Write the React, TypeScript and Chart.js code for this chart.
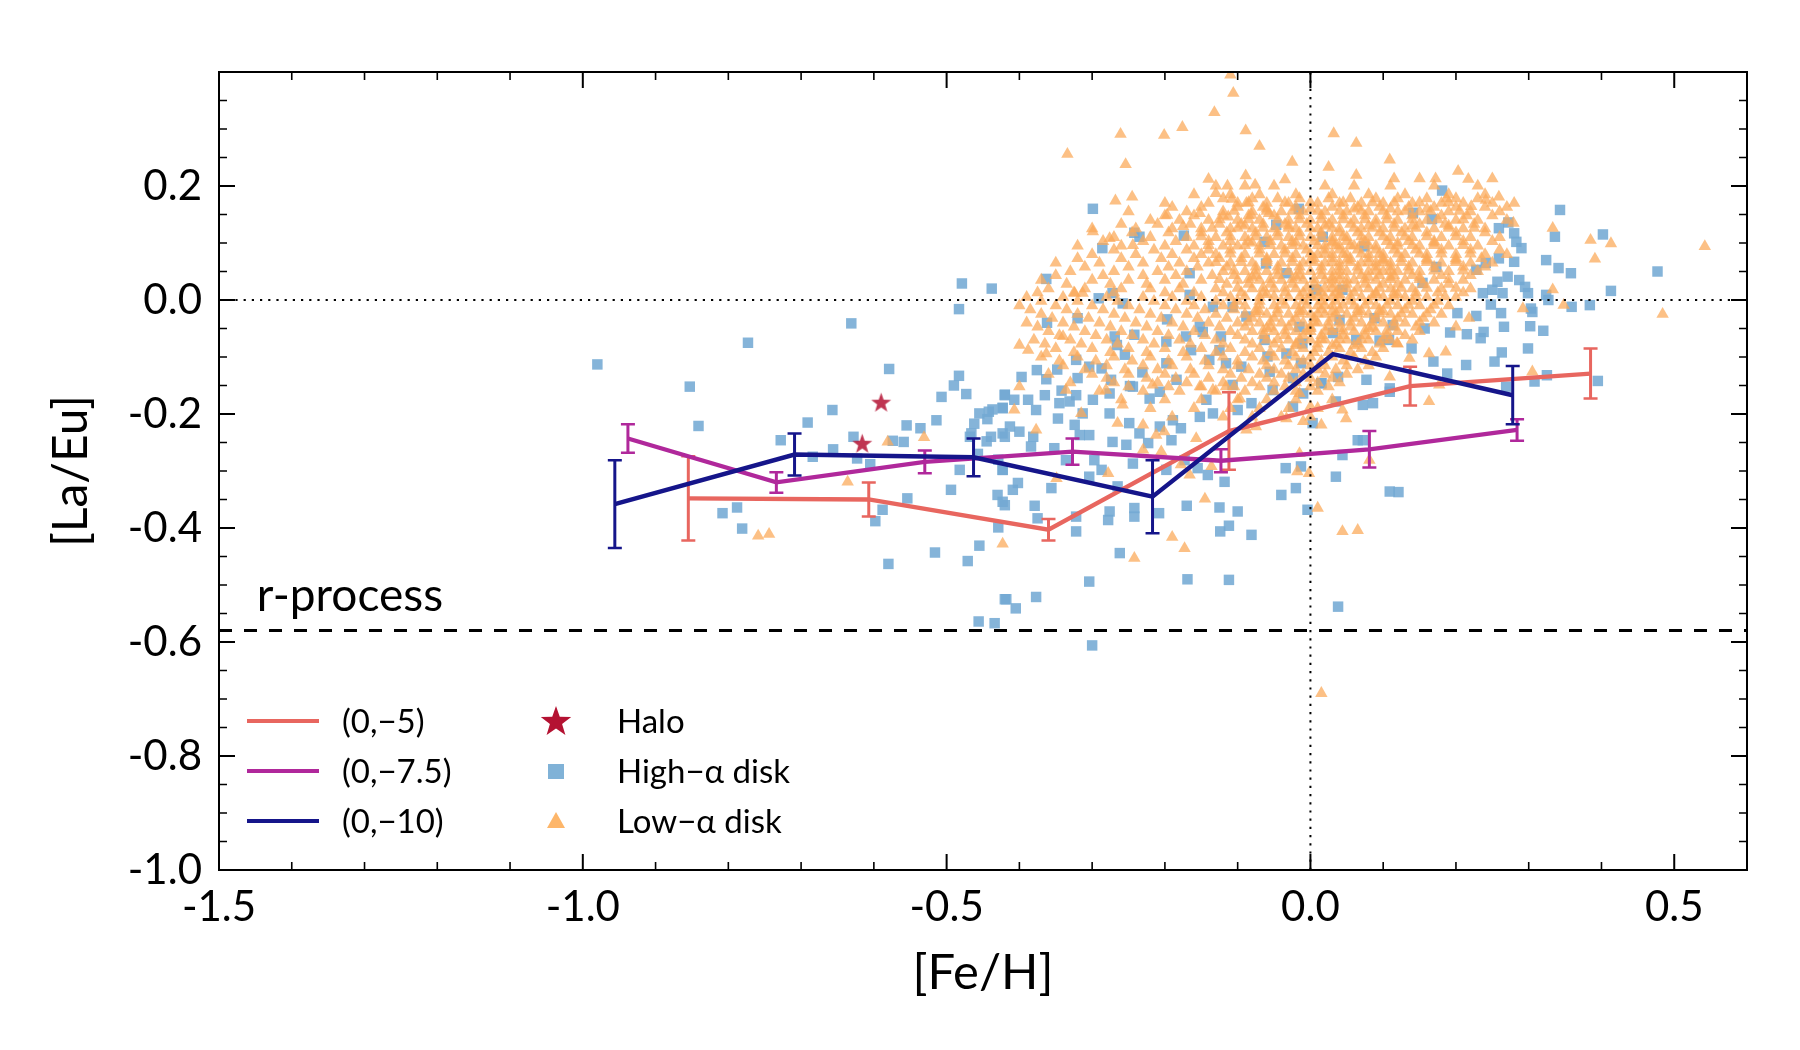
import React, { useEffect, useRef } from "react";
import { Chart, registerables } from "chart.js";

Chart.register(...registerables);

// ---------------- axes ----------------
const xRange = [-1.5, 0.6];
const yRange = [-1.0, 0.4];
const xTickLabels = [-1.5, -1.0, -0.5, 0.0, 0.5];
const yTickLabels = [-1.0, -0.8, -0.6, -0.4, -0.2, 0.0, 0.2];
const xMinorTicks = [-1.4, -1.3, -1.2, -1.1, -0.9, -0.8, -0.7, -0.6, -0.4, -0.3, -0.2, -0.1, 0.1, 0.2, 0.3, 0.4];
const yMinorTicks = [-0.95, -0.9, -0.85, -0.75, -0.7, -0.65, -0.55, -0.5, -0.45, -0.35, -0.3, -0.25, -0.15, -0.1, -0.05, 0.05, 0.1, 0.15, 0.25, 0.3, 0.35];
const xTitle = "[Fe/H]";
const yTitle = "[La/Eu]";

// ---------------- model tracks ----------------
const trackNames = ["(0,\u22125)", "(0,\u22127.5)", "(0,\u221210)"];
const trackColors = ["#e8665f", "#b0289b", "#15158a"];
const track5Fe = [-0.855, -0.607, -0.36, -0.112, 0.137, 0.385];
const track5LaEu = [-0.348, -0.35, -0.403, -0.23, -0.151, -0.129];
const track5Err = [0.074, 0.03, 0.019, 0.068, 0.034, 0.044];
const track75Fe = [-0.938, -0.734, -0.53, -0.327, -0.123, 0.081, 0.284];
const track75LaEu = [-0.243, -0.32, -0.284, -0.266, -0.282, -0.262, -0.228];
const track75Err = [0.025, 0.018, 0.02, 0.023, 0.02, 0.032, 0.019];
const track10Fe = [-0.956, -0.709, -0.463, -0.217, 0.031, 0.278];
const track10LaEu = [-0.358, -0.271, -0.276, -0.345, -0.095, -0.167];
const track10Err = [0.077, 0.037, 0.033, 0.064, 0.0, 0.051];

// ---------------- reference levels ----------------
const solarLaEu = 0.0;
const solarFe = 0.0;
const rProcessLaEu = -0.58;
const rProcessLabel = "r-process";

// ---------------- observed stars ----------------
const sampleNames = ["Halo", "High\u2212\u03b1 disk", "Low\u2212\u03b1 disk"];
const haloStars = [[-0.59, -0.181], [-0.616, -0.253]];

const highAlphaDisk = [
  [-0.98, -0.113], [-0.853, -0.152], [-0.773, -0.075], [-0.841, -0.221], [-0.808, -0.374], [-0.788, -0.364], [-0.781, -0.401],
  [-0.728, -0.246], [-0.691, -0.215], [-0.657, -0.193], [-0.631, -0.041], [-0.684, -0.275], [-0.656, -0.262], [-0.628, -0.24],
  [-0.623, -0.278], [-0.605, -0.288], [-0.579, -0.121], [-0.588, -0.368], [-0.598, -0.388], [-0.58, -0.463], [-0.574, -0.247],
  [-0.559, -0.249], [-0.555, -0.22], [-0.536, -0.225], [-0.514, -0.211], [-0.554, -0.348], [-0.516, -0.443], [-0.507, -0.17],
  [-0.49, -0.15], [-0.483, -0.133], [-0.473, -0.165], [-0.479, 0.029], [-0.438, 0.02], [-0.483, -0.016], [-0.494, -0.333],
  [-0.482, -0.298], [-0.455, -0.199], [-0.462, -0.217], [-0.444, -0.209], [-0.437, -0.192], [-0.423, -0.189], [-0.42, -0.166],
  [-0.466, -0.234], [-0.439, -0.24], [-0.445, -0.248], [-0.423, -0.234], [-0.423, -0.298], [-0.43, -0.342], [-0.42, -0.36],
  [-0.429, -0.399], [-0.455, -0.431], [-0.471, -0.458], [-0.42, -0.525], [-0.456, -0.564], [-0.434, -0.567],
  [-0.299, 0.16], [-0.363, 0.037], [-0.362, -0.04], [-0.286, 0.091], [-0.242, 0.118], [-0.235, 0.111], [-0.174, 0.113],
  [-0.016, 0.16], [-0.047, 0.132], [-0.397, -0.135], [-0.376, -0.123], [-0.348, -0.122], [-0.322, -0.105], [-0.32, -0.137],
  [-0.304, -0.117], [-0.287, -0.12], [-0.274, -0.14], [-0.269, -0.064], [-0.266, -0.079], [-0.255, -0.096], [-0.242, -0.061],
  [-0.231, -0.127], [-0.248, -0.151], [-0.197, -0.034], [-0.291, 0.003], [-0.272, 0.012], [-0.258, -0.006], [-0.32, -0.032],
  [-0.166, 0.047], [-0.166, 0.009], [-0.152, -0.047], [-0.148, -0.056], [-0.171, -0.064], [-0.198, -0.073], [-0.198, -0.111],
  [-0.184, -0.14], [-0.164, -0.088], [-0.139, -0.105], [-0.123, -0.064], [-0.125, -0.088], [-0.116, -0.111], [-0.095, -0.117],
  [-0.107, -0.149], [-0.134, -0.012], [-0.107, -0.012], [-0.088, -0.029], [-0.061, 0.064], [-0.063, 0.102], [-0.063, -0.07],
  [-0.059, -0.099], [-0.056, -0.126], [-0.033, -0.094], [-0.013, -0.111], [-0.024, -0.137], [-0.015, -0.047], [-0.011, -0.076],
  [-0.033, 0.047], [0.008, 0.018], [0.044, 0.018], [0.038, -0.135], [0.015, -0.146], [0.063, -0.07], [0.04, -0.035],
  [0.031, -0.058], [0.017, 0.111],
  [0.181, 0.192], [0.141, 0.153], [0.167, 0.142], [0.343, 0.158], [0.272, 0.136], [0.259, 0.126], [0.28, 0.117], [0.283, 0.102],
  [0.29, 0.091], [0.336, 0.111], [0.402, 0.115], [0.324, 0.07], [0.341, 0.056], [0.358, 0.047], [0.477, 0.05], [0.413, 0.016],
  [0.384, -0.009], [0.359, -0.012], [0.327, 0.0], [0.324, 0.009], [0.295, 0.023], [0.287, 0.035], [0.299, 0.012], [0.303, -0.015],
  [0.305, -0.021], [0.28, 0.067], [0.271, 0.041], [0.259, 0.073], [0.241, 0.065], [0.228, 0.053], [0.257, 0.032], [0.25, 0.018],
  [0.264, 0.012], [0.237, 0.012], [0.248, -0.008], [0.262, -0.023], [0.228, -0.028], [0.202, -0.023], [0.266, -0.047],
  [0.302, -0.046], [0.32, -0.054], [0.238, -0.056], [0.234, -0.067], [0.215, -0.06], [0.192, -0.057], [0.263, -0.092],
  [0.253, -0.108], [0.299, -0.085], [0.214, -0.114], [0.188, -0.129], [0.169, -0.108], [0.139, -0.085], [0.157, -0.05],
  [0.108, -0.07], [0.095, -0.071], [0.077, -0.14], [0.109, -0.155], [0.325, -0.132], [0.308, -0.143], [0.395, -0.142],
  [0.088, -0.032], [0.113, -0.044], [0.173, 0.058], [0.154, 0.03], [0.074, 0.094],
  [-0.42, -0.167], [-0.407, -0.175], [-0.388, -0.175], [-0.365, -0.167], [-0.423, -0.19], [-0.377, -0.193], [-0.345, -0.181],
  [-0.331, -0.178], [-0.322, -0.167], [-0.347, -0.208], [-0.324, -0.219], [-0.413, -0.222], [-0.4, -0.231], [-0.381, -0.24],
  [-0.42, -0.24], [-0.384, -0.257], [-0.352, -0.26], [-0.317, -0.237], [-0.304, -0.237], [-0.336, -0.281], [-0.297, -0.281],
  [-0.423, -0.298], [-0.409, -0.333], [-0.423, -0.354], [-0.379, -0.361], [-0.356, -0.33], [-0.375, -0.383], [-0.322, -0.38],
  [-0.322, -0.406], [-0.304, -0.31], [-0.287, -0.298], [-0.276, -0.371], [-0.278, -0.386], [-0.265, -0.327], [-0.242, -0.365],
  [-0.242, -0.38], [-0.208, -0.374], [-0.262, -0.444], [-0.304, -0.494], [-0.377, -0.521], [-0.418, -0.525], [-0.405, -0.541],
  [-0.3, -0.606], [-0.169, -0.49], [-0.112, -0.491], [0.038, -0.538], [-0.17, -0.361], [-0.125, -0.364], [-0.1, -0.371],
  [-0.124, -0.406], [-0.112, -0.396], [-0.081, -0.412], [-0.118, -0.319], [-0.04, -0.342], [-0.02, -0.33], [-0.004, -0.368],
  [-0.034, -0.295], [-0.013, -0.292], [0.035, -0.31], [0.044, -0.272], [0.065, -0.246], [0.003, -0.216], [0.035, -0.178],
  [0.015, -0.146], [-0.173, -0.281], [-0.155, -0.295], [-0.141, -0.307], [-0.244, -0.287], [-0.198, -0.298], [-0.272, -0.249],
  [-0.253, -0.254], [-0.235, -0.234], [-0.223, -0.251], [-0.207, -0.222], [-0.191, -0.246], [-0.178, -0.225], [-0.189, -0.211],
  [-0.152, -0.205], [-0.134, -0.199], [-0.143, -0.175], [-0.1, -0.193], [-0.081, -0.181], [-0.052, -0.158], [-0.024, -0.187],
  [-0.01, -0.164], [-0.276, -0.164], [-0.244, -0.152], [-0.221, -0.173], [-0.207, -0.161], [-0.276, -0.199], [-0.249, -0.216],
  [-0.299, -0.175], [-0.313, -0.199],
  [0.072, -0.246], [0.109, -0.336], [0.121, -0.337], [0.269, -0.152], [0.109, -0.161], [0.086, -0.181], [0.072, -0.184],
  [-0.442, -0.196], [-0.468, -0.24], [-0.457, -0.27], [-0.402, -0.321], [-0.429, -0.28], [-0.363, -0.139], [-0.342, -0.159]
];

const lowAlphaDisk = [
  // outliers
  [-0.759, -0.414], [-0.744, -0.411], [-0.636, -0.319], [-0.581, -0.249], [-0.531, -0.241], [-0.423, -0.428],
  [-0.11, 0.395], [-0.106, 0.363], [-0.132, 0.329], [-0.176, 0.303], [-0.201, 0.289], [-0.261, 0.291], [-0.334, 0.256],
  [-0.254, 0.238], [-0.089, 0.297], [-0.07, 0.27], [0.032, 0.292], [0.063, 0.275], [0.025, 0.233], [0.063, 0.219],
  [-0.025, 0.242], [-0.035, 0.211], [-0.14, 0.212], [-0.114, 0.2], [-0.089, 0.218], [-0.076, 0.202], [-0.13, 0.187],
  [-0.108, 0.177], [-0.268, 0.174], [-0.245, 0.181], [-0.088, 0.17], [-0.197, 0.149], [-0.152, 0.152], [-0.113, 0.146],
  [-0.081, 0.149], [-0.057, 0.152], [-0.299, 0.12], [-0.276, 0.108], [-0.244, 0.096], [-0.175, 0.129], [-0.4, -0.079],
  [-0.388, -0.088], [-0.324, 0.012], [-0.313, 0.012], [-0.34, -0.064], [-0.363, -0.094],
  [0.109, 0.246], [0.115, 0.213], [0.15, 0.213], [0.172, 0.213], [0.203, 0.226], [0.217, 0.212], [0.25, 0.213], [0.241, 0.175],
  [0.259, 0.181], [0.187, 0.178], [0.221, 0.164], [0.333, 0.126], [0.385, 0.105], [0.413, 0.099], [0.391, 0.072], [0.542, 0.094],
  [0.484, -0.025], [0.333, 0.018], [0.348, -0.009], [0.292, -0.015], [0.279, 0.135], [0.305, -0.126], [0.177, -0.149],
  [0.163, -0.094], [0.136, -0.102], [0.109, -0.135], [0.119, -0.076], [0.186, -0.091], [0.2, -0.047], [0.218, -0.032],
  [-0.242, -0.453], [-0.19, -0.416], [-0.173, -0.436], [-0.145, -0.349], [0.01, -0.365], [0.044, -0.406], [0.065, -0.404],
  [0.015, -0.69], [-0.349, -0.313], [-0.278, -0.304], [-0.018, -0.301], [-0.002, -0.304], [-0.407, -0.193], [-0.377, -0.228],
  [-0.315, -0.199], [-0.265, -0.216], [-0.23, -0.219], [-0.212, -0.237], [-0.201, -0.231], [-0.157, -0.243], [-0.23, -0.263],
  [-0.205, -0.266], [-0.178, -0.289], [-0.166, -0.307], [-0.136, -0.292], [-0.097, -0.173], [-0.088, -0.228], [-0.075, -0.222],
  [-0.033, -0.208], [-0.01, -0.213], [0.015, -0.219], [0.049, -0.208], [0.044, -0.193], [0.0, -0.187], [-0.015, -0.269],
  [-0.217, -0.149], [-0.258, -0.184], [-0.134, -0.158], [-0.116, -0.152], [-0.152, -0.152], [-0.015, -0.164], [-0.4, -0.152],
  [-0.336, -0.158], [-0.281, -0.158], [0.081, -0.281], [0.163, -0.178],
  // main clump
  [-0.13, 0.2], [-0.09, 0.2], [-0.05, 0.2], [0.02, 0.2], [0.06, 0.2], [0.11, 0.2], [0.17, 0.2], [0.23, 0.2],
  [-0.16, 0.185], [-0.11, 0.185], [-0.07, 0.185], [-0.02, 0.185], [0.03, 0.185], [0.08, 0.185], [0.13, 0.185], [0.19, 0.185], [0.24, 0.185],
  [-0.2, 0.17], [-0.14, 0.17], [-0.1, 0.17], [-0.06, 0.17], [-0.03, 0.17], [0.01, 0.17], [0.04, 0.17], [0.07, 0.17], [0.1, 0.17],
  [0.14, 0.17], [0.18, 0.17], [0.21, 0.17], [0.25, 0.17], [0.28, 0.17],
  [-0.25, 0.155], [-0.17, 0.155], [-0.12, 0.155], [-0.08, 0.155], [-0.04, 0.155], [-0.01, 0.155], [0.02, 0.155], [0.05, 0.155],
  [0.08, 0.155], [0.12, 0.155], [0.15, 0.155], [0.19, 0.155], [0.22, 0.155], [0.26, 0.155],
  [-0.22, 0.14], [-0.18, 0.14], [-0.14, 0.14], [-0.1, 0.14], [-0.07, 0.14], [-0.03, 0.14], [0.0, 0.14], [0.03, 0.14], [0.06, 0.14],
  [0.09, 0.14], [0.12, 0.14], [0.16, 0.14], [0.2, 0.14], [0.23, 0.14], [0.27, 0.14],
  [-0.3, 0.125], [-0.24, 0.125], [-0.19, 0.125], [-0.15, 0.125], [-0.11, 0.125], [-0.08, 0.125], [-0.05, 0.125], [-0.02, 0.125],
  [0.01, 0.125], [0.04, 0.125], [0.07, 0.125], [0.1, 0.125], [0.13, 0.125], [0.17, 0.125], [0.21, 0.125], [0.24, 0.125],
  [-0.27, 0.11], [-0.22, 0.11], [-0.17, 0.11], [-0.13, 0.11], [-0.09, 0.11], [-0.06, 0.11], [-0.03, 0.11], [0.0, 0.11], [0.03, 0.11],
  [0.05, 0.11], [0.08, 0.11], [0.11, 0.11], [0.14, 0.11], [0.18, 0.11], [0.22, 0.11], [0.26, 0.11],
  [-0.32, 0.095], [-0.26, 0.095], [-0.2, 0.095], [-0.16, 0.095], [-0.12, 0.095], [-0.1, 0.095], [-0.07, 0.095], [-0.04, 0.095],
  [-0.01, 0.095], [0.02, 0.095], [0.04, 0.095], [0.06, 0.095], [0.09, 0.095], [0.12, 0.095], [0.15, 0.095], [0.19, 0.095], [0.23, 0.095],
  [-0.3, 0.08], [-0.24, 0.08], [-0.19, 0.08], [-0.15, 0.08], [-0.13, 0.08], [-0.09, 0.08], [-0.05, 0.08], [-0.02, 0.08], [0.01, 0.08],
  [0.03, 0.08], [0.05, 0.08], [0.08, 0.08], [0.1, 0.08], [0.13, 0.08], [0.16, 0.08], [0.2, 0.08], [0.24, 0.08], [0.27, 0.08],
  [-0.35, 0.065], [-0.29, 0.065], [-0.23, 0.065], [-0.18, 0.065], [-0.14, 0.065], [-0.11, 0.065], [-0.08, 0.065], [-0.04, 0.065],
  [-0.01, 0.065], [0.02, 0.065], [0.04, 0.065], [0.07, 0.065], [0.09, 0.065], [0.11, 0.065], [0.14, 0.065], [0.18, 0.065], [0.22, 0.065], [0.25, 0.065],
  [-0.33, 0.05], [-0.27, 0.05], [-0.21, 0.05], [-0.17, 0.05], [-0.12, 0.05], [-0.09, 0.05], [-0.06, 0.05], [-0.03, 0.05], [0.0, 0.05],
  [0.03, 0.05], [0.05, 0.05], [0.08, 0.05], [0.1, 0.05], [0.12, 0.05], [0.15, 0.05], [0.19, 0.05], [0.23, 0.05],
  [-0.37, 0.035], [-0.3, 0.035], [-0.25, 0.035], [-0.2, 0.035], [-0.15, 0.035], [-0.1, 0.035], [-0.07, 0.035], [-0.04, 0.035],
  [-0.01, 0.035], [0.02, 0.035], [0.04, 0.035], [0.06, 0.035], [0.09, 0.035], [0.13, 0.035], [0.17, 0.035], [0.21, 0.035],
  [-0.36, 0.02], [-0.31, 0.02], [-0.26, 0.02], [-0.22, 0.02], [-0.18, 0.02], [-0.13, 0.02], [-0.08, 0.02], [-0.05, 0.02], [-0.02, 0.02],
  [0.01, 0.02], [0.03, 0.02], [0.05, 0.02], [0.08, 0.02], [0.11, 0.02], [0.14, 0.02], [0.18, 0.02], [0.22, 0.02],
  [-0.39, 0.005], [-0.34, 0.005], [-0.28, 0.005], [-0.23, 0.005], [-0.19, 0.005], [-0.15, 0.005], [-0.11, 0.005], [-0.07, 0.005],
  [-0.03, 0.005], [0.0, 0.005], [0.02, 0.005], [0.04, 0.005], [0.07, 0.005], [0.1, 0.005], [0.13, 0.005], [0.16, 0.005], [0.2, 0.005],
  [-0.4, -0.01], [-0.35, -0.01], [-0.3, -0.01], [-0.25, -0.01], [-0.2, -0.01], [-0.16, -0.01], [-0.12, -0.01], [-0.09, -0.01],
  [-0.05, -0.01], [-0.02, -0.01], [0.01, -0.01], [0.03, -0.01], [0.06, -0.01], [0.09, -0.01], [0.12, -0.01], [0.15, -0.01], [0.19, -0.01],
  [-0.37, -0.025], [-0.32, -0.025], [-0.27, -0.025], [-0.22, -0.025], [-0.17, -0.025], [-0.13, -0.025], [-0.09, -0.025], [-0.06, -0.025],
  [-0.03, -0.025], [0.0, -0.025], [0.02, -0.025], [0.05, -0.025], [0.08, -0.025], [0.11, -0.025], [0.14, -0.025], [0.18, -0.025],
  [-0.39, -0.04], [-0.34, -0.04], [-0.29, -0.04], [-0.24, -0.04], [-0.19, -0.04], [-0.14, -0.04], [-0.1, -0.04], [-0.07, -0.04],
  [-0.04, -0.04], [-0.01, -0.04], [0.01, -0.04], [0.04, -0.04], [0.07, -0.04], [0.1, -0.04], [0.13, -0.04], [0.17, -0.04],
  [-0.36, -0.055], [-0.31, -0.055], [-0.26, -0.055], [-0.21, -0.055], [-0.16, -0.055], [-0.11, -0.055], [-0.08, -0.055], [-0.05, -0.055],
  [-0.02, -0.055], [0.0, -0.055], [0.03, -0.055], [0.06, -0.055], [0.09, -0.055], [0.12, -0.055], [0.15, -0.055],
  [-0.38, -0.07], [-0.33, -0.07], [-0.28, -0.07], [-0.23, -0.07], [-0.18, -0.07], [-0.13, -0.07], [-0.09, -0.07], [-0.06, -0.07],
  [-0.03, -0.07], [0.0, -0.07], [0.02, -0.07], [0.05, -0.07], [0.08, -0.07], [0.11, -0.07], [0.14, -0.07],
  [-0.35, -0.085], [-0.3, -0.085], [-0.25, -0.085], [-0.2, -0.085], [-0.15, -0.085], [-0.11, -0.085], [-0.07, -0.085], [-0.04, -0.085],
  [-0.01, -0.085], [0.01, -0.085], [0.04, -0.085], [0.07, -0.085], [0.1, -0.085],
  [-0.37, -0.1], [-0.32, -0.1], [-0.27, -0.1], [-0.22, -0.1], [-0.17, -0.1], [-0.12, -0.1], [-0.08, -0.1], [-0.05, -0.1], [-0.02, -0.1],
  [0.0, -0.1], [0.03, -0.1], [0.06, -0.1], [0.09, -0.1],
  [-0.34, -0.115], [-0.28, -0.115], [-0.23, -0.115], [-0.19, -0.115], [-0.14, -0.115], [-0.1, -0.115], [-0.06, -0.115], [-0.03, -0.115],
  [0.0, -0.115], [0.02, -0.115], [0.05, -0.115], [0.08, -0.115],
  [-0.36, -0.13], [-0.3, -0.13], [-0.25, -0.13], [-0.2, -0.13], [-0.16, -0.13], [-0.11, -0.13], [-0.07, -0.13], [-0.04, -0.13],
  [-0.01, -0.13], [0.02, -0.13], [0.05, -0.13],
  [-0.33, -0.145], [-0.27, -0.145], [-0.21, -0.145], [-0.17, -0.145], [-0.12, -0.145], [-0.08, -0.145], [-0.05, -0.145], [-0.02, -0.145],
  [0.01, -0.145], [0.04, -0.145],
  [-0.29, -0.16], [-0.23, -0.16], [-0.18, -0.16], [-0.13, -0.16], [-0.09, -0.16], [-0.05, -0.16], [-0.02, -0.16], [0.01, -0.16],
  [-0.26, -0.175], [-0.2, -0.175], [-0.15, -0.175], [-0.1, -0.175], [-0.06, -0.175], [-0.02, -0.175], [0.03, -0.175],
  [-0.22, -0.19], [-0.16, -0.19], [-0.11, -0.19], [-0.07, -0.19], [-0.03, -0.19], [0.01, -0.19],
  [-0.19, -0.205], [-0.12, -0.205], [-0.08, -0.205], [-0.04, -0.205], [0.0, -0.205],
  // densest part of the clump
  [-0.06, 0.16], [0.0, 0.16], [0.06, 0.16], [0.11, 0.16], [0.16, 0.16],
  [-0.09, 0.13], [-0.03, 0.13], [0.02, 0.13], [0.08, 0.13], [0.14, 0.13], [0.19, 0.13],
  [-0.08, 0.1], [-0.02, 0.1], [0.03, 0.1], [0.07, 0.1], [0.12, 0.1], [0.17, 0.1],
  [-0.06, 0.07], [0.0, 0.07], [0.05, 0.07], [0.1, 0.07], [0.16, 0.07], [0.2, 0.07],
  [-0.08, 0.04], [-0.02, 0.04], [0.03, 0.04], [0.08, 0.04], [0.11, 0.04], [0.15, 0.04],
  [-0.06, 0.01], [0.0, 0.01], [0.04, 0.01], [0.09, 0.01], [0.12, 0.01],
  [-0.07, -0.02], [-0.01, -0.02], [0.03, -0.02], [0.07, -0.02], [0.1, -0.02],
  [-0.06, -0.05], [0.0, -0.05], [0.04, -0.05], [0.08, -0.05],
  [-0.02, -0.08], [0.03, -0.08], [0.06, -0.08],
  // filling between the rows of the clump
  [-0.12, 0.178], [-0.08, 0.178], [-0.045, 0.178], [-0.015, 0.178], [0.025, 0.178], [0.055, 0.178], [0.09, 0.178], [0.12, 0.178], [0.16, 0.178], [0.2, 0.178], [0.23, 0.178],
  [-0.19, 0.163], [-0.15, 0.163], [-0.1, 0.163], [-0.065, 0.163], [-0.02, 0.163], [0.03, 0.163], [0.065, 0.163], [0.095, 0.163], [0.135, 0.163], [0.17, 0.163], [0.2, 0.163], [0.24, 0.163], [0.27, 0.163],
  [-0.2, 0.148], [-0.16, 0.148], [-0.12, 0.148], [-0.085, 0.148], [-0.05, 0.148], [-0.015, 0.148], [0.015, 0.148], [0.045, 0.148], [0.075, 0.148], [0.105, 0.148], [0.14, 0.148], [0.18, 0.148], [0.215, 0.148], [0.25, 0.148],
  [-0.26, 0.133], [-0.21, 0.133], [-0.165, 0.133], [-0.125, 0.133], [-0.095, 0.133], [-0.065, 0.133], [-0.035, 0.133], [-0.005, 0.133], [0.025, 0.133], [0.055, 0.133], [0.09, 0.133], [0.115, 0.133], [0.15, 0.133], [0.185, 0.133], [0.225, 0.133],
  [-0.245, 0.118], [-0.195, 0.118], [-0.15, 0.118], [-0.115, 0.118], [-0.075, 0.118], [-0.045, 0.118], [-0.015, 0.118], [0.015, 0.118], [0.04, 0.118], [0.065, 0.118], [0.095, 0.118], [0.125, 0.118], [0.16, 0.118], [0.2, 0.118], [0.24, 0.118],
  [-0.285, 0.103], [-0.23, 0.103], [-0.185, 0.103], [-0.14, 0.103], [-0.11, 0.103], [-0.085, 0.103], [-0.055, 0.103], [-0.025, 0.103], [0.005, 0.103], [0.03, 0.103], [0.05, 0.103], [0.075, 0.103], [0.105, 0.103], [0.135, 0.103], [0.17, 0.103], [0.21, 0.103], [0.25, 0.103],
  [-0.27, 0.088], [-0.215, 0.088], [-0.17, 0.088], [-0.14, 0.088], [-0.11, 0.088], [-0.07, 0.088], [-0.035, 0.088], [-0.005, 0.088], [0.02, 0.088], [0.04, 0.088], [0.065, 0.088], [0.09, 0.088], [0.115, 0.088], [0.145, 0.088], [0.18, 0.088], [0.22, 0.088], [0.26, 0.088],
  [-0.32, 0.073], [-0.26, 0.073], [-0.205, 0.073], [-0.16, 0.073], [-0.125, 0.073], [-0.095, 0.073], [-0.06, 0.073], [-0.025, 0.073], [0.005, 0.073], [0.03, 0.073], [0.055, 0.073], [0.08, 0.073], [0.1, 0.073], [0.125, 0.073], [0.16, 0.073], [0.2, 0.073], [0.235, 0.073],
  [-0.31, 0.058], [-0.25, 0.058], [-0.195, 0.058], [-0.155, 0.058], [-0.115, 0.058], [-0.075, 0.058], [-0.045, 0.058], [-0.015, 0.058], [0.015, 0.058], [0.04, 0.058], [0.065, 0.058], [0.09, 0.058], [0.11, 0.058], [0.135, 0.058], [0.17, 0.058], [0.21, 0.058], [0.24, 0.058],
  [-0.35, 0.043], [-0.285, 0.043], [-0.23, 0.043], [-0.185, 0.043], [-0.135, 0.043], [-0.105, 0.043], [-0.075, 0.043], [-0.045, 0.043], [-0.015, 0.043], [0.015, 0.043], [0.04, 0.043], [0.07, 0.043], [0.095, 0.043], [0.115, 0.043], [0.14, 0.043], [0.18, 0.043], [0.22, 0.043],
  [-0.335, 0.028], [-0.275, 0.028], [-0.225, 0.028], [-0.175, 0.028], [-0.115, 0.028], [-0.085, 0.028], [-0.055, 0.028], [-0.025, 0.028], [0.005, 0.028], [0.03, 0.028], [0.05, 0.028], [0.075, 0.028], [0.1, 0.028], [0.12, 0.028], [0.155, 0.028], [0.19, 0.028],
  [-0.375, 0.013], [-0.325, 0.013], [-0.27, 0.013], [-0.2, 0.013], [-0.16, 0.013], [-0.12, 0.013], [-0.095, 0.013], [-0.065, 0.013], [-0.035, 0.013], [-0.01, 0.013], [0.015, 0.013], [0.035, 0.013], [0.06, 0.013], [0.09, 0.013], [0.115, 0.013], [0.145, 0.013], [0.175, 0.013], [0.21, 0.013],
  [-0.37, -0.002], [-0.32, -0.002], [-0.265, -0.002], [-0.215, -0.002], [-0.17, -0.002], [-0.13, -0.002], [-0.1, -0.002], [-0.07, -0.002], [-0.04, -0.002], [-0.01, -0.002], [0.015, -0.002], [0.035, -0.002], [0.055, -0.002], [0.08, -0.002], [0.11, -0.002], [0.14, -0.002], [0.175, -0.002],
  [-0.385, -0.017], [-0.335, -0.017], [-0.285, -0.017], [-0.235, -0.017], [-0.185, -0.017], [-0.145, -0.017], [-0.105, -0.017], [-0.075, -0.017], [-0.045, -0.017], [-0.015, -0.017], [0.015, -0.017], [0.04, -0.017], [0.065, -0.017], [0.095, -0.017], [0.13, -0.017], [0.165, -0.017],
  [-0.355, -0.032], [-0.305, -0.032], [-0.255, -0.032], [-0.205, -0.032], [-0.155, -0.032], [-0.115, -0.032], [-0.08, -0.032], [-0.05, -0.032], [-0.02, -0.032], [0.005, -0.032], [0.03, -0.032], [0.06, -0.032], [0.09, -0.032], [0.12, -0.032], [0.155, -0.032],
  [-0.375, -0.047], [-0.325, -0.047], [-0.275, -0.047], [-0.225, -0.047], [-0.175, -0.047], [-0.125, -0.047], [-0.09, -0.047], [-0.055, -0.047], [-0.03, -0.047], [0.0, -0.047], [0.025, -0.047], [0.055, -0.047], [0.085, -0.047], [0.115, -0.047], [0.145, -0.047],
  [-0.345, -0.062], [-0.295, -0.062], [-0.245, -0.062], [-0.195, -0.062], [-0.145, -0.062], [-0.1, -0.062], [-0.065, -0.062], [-0.035, -0.062], [-0.01, -0.062], [0.015, -0.062], [0.045, -0.062], [0.075, -0.062], [0.105, -0.062], [0.13, -0.062],
  [-0.365, -0.077], [-0.315, -0.077], [-0.265, -0.077], [-0.215, -0.077], [-0.165, -0.077], [-0.12, -0.077], [-0.08, -0.077], [-0.05, -0.077], [-0.02, -0.077], [0.01, -0.077], [0.035, -0.077], [0.065, -0.077], [0.095, -0.077], [0.12, -0.077],
  [-0.325, -0.092], [-0.275, -0.092], [-0.225, -0.092], [-0.175, -0.092], [-0.13, -0.092], [-0.09, -0.092], [-0.055, -0.092], [-0.025, -0.092], [0.005, -0.092], [0.025, -0.092], [0.055, -0.092], [0.085, -0.092],
  [-0.345, -0.107], [-0.295, -0.107], [-0.245, -0.107], [-0.195, -0.107], [-0.145, -0.107], [-0.1, -0.107], [-0.065, -0.107], [-0.035, -0.107], [-0.01, -0.107], [0.015, -0.107], [0.045, -0.107], [0.075, -0.107],
  [-0.31, -0.122], [-0.255, -0.122], [-0.21, -0.122], [-0.165, -0.122], [-0.12, -0.122], [-0.085, -0.122], [-0.05, -0.122], [-0.02, -0.122], [0.01, -0.122], [0.035, -0.122], [0.065, -0.122],
  [-0.28, -0.137], [-0.225, -0.137], [-0.185, -0.137], [-0.14, -0.137], [-0.095, -0.137], [-0.06, -0.137], [-0.03, -0.137], [0.0, -0.137], [0.03, -0.137],
  [-0.25, -0.152], [-0.195, -0.152], [-0.15, -0.152], [-0.105, -0.152], [-0.07, -0.152], [-0.035, -0.152], [0.0, -0.152], [0.025, -0.152],
  // solid centre of the clump
  [-0.085, 0.171], [-0.035, 0.171], [0.0, 0.171], [0.045, 0.171], [0.085, 0.171], [0.115, 0.171], [0.15, 0.171], [0.19, 0.171],
  [-0.105, 0.156], [-0.06, 0.156], [-0.025, 0.156], [0.01, 0.156], [0.04, 0.156], [0.07, 0.156], [0.1, 0.156], [0.13, 0.156], [0.165, 0.156], [0.205, 0.156],
  [-0.125, 0.141], [-0.085, 0.141], [-0.045, 0.141], [-0.015, 0.141], [0.015, 0.141], [0.045, 0.141], [0.075, 0.141], [0.105, 0.141], [0.14, 0.141], [0.175, 0.141], [0.21, 0.141],
  [-0.135, 0.126], [-0.1, 0.126], [-0.065, 0.126], [-0.03, 0.126], [0.0, 0.126], [0.03, 0.126], [0.06, 0.126], [0.085, 0.126], [0.115, 0.126], [0.145, 0.126], [0.19, 0.126], [0.225, 0.126],
  [-0.15, 0.111], [-0.11, 0.111], [-0.075, 0.111], [-0.045, 0.111], [-0.015, 0.111], [0.015, 0.111], [0.045, 0.111], [0.07, 0.111], [0.1, 0.111], [0.13, 0.111], [0.16, 0.111], [0.2, 0.111],
  [-0.14, 0.096], [-0.09, 0.096], [-0.055, 0.096], [-0.025, 0.096], [0.01, 0.096], [0.035, 0.096], [0.055, 0.096], [0.08, 0.096], [0.11, 0.096], [0.14, 0.096], [0.17, 0.096], [0.21, 0.096],
  [-0.11, 0.081], [-0.07, 0.081], [-0.035, 0.081], [0.0, 0.081], [0.02, 0.081], [0.045, 0.081], [0.07, 0.081], [0.095, 0.081], [0.12, 0.081], [0.15, 0.081], [0.18, 0.081], [0.22, 0.081],
  [-0.13, 0.066], [-0.095, 0.066], [-0.06, 0.066], [-0.025, 0.066], [0.005, 0.066], [0.03, 0.066], [0.055, 0.066], [0.08, 0.066], [0.1, 0.066], [0.125, 0.066], [0.16, 0.066], [0.2, 0.066],
  [-0.105, 0.051], [-0.075, 0.051], [-0.045, 0.051], [-0.015, 0.051], [0.015, 0.051], [0.04, 0.051], [0.065, 0.051], [0.09, 0.051], [0.11, 0.051], [0.135, 0.051], [0.17, 0.051], [0.21, 0.051],
  [-0.125, 0.036], [-0.085, 0.036], [-0.055, 0.036], [-0.025, 0.036], [0.005, 0.036], [0.03, 0.036], [0.05, 0.036], [0.075, 0.036], [0.11, 0.036], [0.15, 0.036], [0.19, 0.036],
  [-0.1, 0.021], [-0.065, 0.021], [-0.035, 0.021], [-0.005, 0.021], [0.02, 0.021], [0.04, 0.021], [0.065, 0.021], [0.095, 0.021], [0.125, 0.021], [0.16, 0.021], [0.2, 0.021],
  [-0.09, 0.006], [-0.05, 0.006], [-0.015, 0.006], [0.01, 0.006], [0.03, 0.006], [0.055, 0.006], [0.085, 0.006], [0.115, 0.006], [0.145, 0.006], [0.185, 0.006],
  [-0.105, -0.009], [-0.07, -0.009], [-0.035, -0.009], [-0.005, -0.009], [0.02, -0.009], [0.045, -0.009], [0.075, -0.009], [0.105, -0.009], [0.135, -0.009], [0.17, -0.009],
  [-0.075, -0.024], [-0.045, -0.024], [-0.015, -0.024], [0.01, -0.024], [0.035, -0.024], [0.065, -0.024], [0.095, -0.024], [0.125, -0.024], [0.16, -0.024],
  [-0.085, -0.039], [-0.055, -0.039], [-0.025, -0.039], [0.005, -0.039], [0.025, -0.039], [0.055, -0.039], [0.085, -0.039], [0.115, -0.039], [0.15, -0.039],
  [-0.065, -0.054], [-0.035, -0.054], [-0.005, -0.054], [0.02, -0.054], [0.045, -0.054], [0.075, -0.054], [0.105, -0.054],
  [-0.045, -0.069], [-0.015, -0.069], [0.015, -0.069], [0.04, -0.069], [0.07, -0.069], [0.1, -0.069]
];

// ---------------- colours ----------------
const haloColor = "rgba(180, 18, 50, 0.85)";
const highAlphaColor = "rgba(116, 170, 212, 0.88)";
const lowAlphaColor = "rgba(251, 170, 90, 0.74)";

const FONT = "Lato, 'Open Sans', sans-serif";

function starPath(ctx: CanvasRenderingContext2D, cx: number, cy: number, r: number) {
  const inner = r * 0.4;
  ctx.beginPath();
  for (let i = 0; i < 10; i++) {
    const rad = i % 2 === 0 ? r : inner;
    const a = -Math.PI / 2 + (i * Math.PI) / 5;
    const px = cx + rad * Math.cos(a);
    const py = cy + rad * Math.sin(a);
    if (i === 0) ctx.moveTo(px, py);
    else ctx.lineTo(px, py);
  }
  ctx.closePath();
}

function makeStarImage(r: number, color: string) {
  const c = document.createElement("canvas");
  const s = Math.ceil(2 * r + 2);
  c.width = s;
  c.height = s;
  const g = c.getContext("2d")!;
  starPath(g, s / 2, s / 2, r);
  g.fillStyle = color;
  g.fill();
  return c;
}

const toPoints = (xs: number[], ys: number[]) => xs.map((x, i) => ({ x, y: ys[i] }));
const pairsToPoints = (arr: number[][]) => arr.map((p) => ({ x: p[0], y: p[1] }));

const errorBarPlugin = {
  id: "errorBars",
  afterDatasetDraw(chart: any, args: any) {
    const ds = chart.data.datasets[args.index];
    const errs = ds.errorBars;
    if (!errs) return;
    const xs = chart.scales.x;
    const ys = chart.scales.y;
    const ctx = chart.ctx;
    ctx.save();
    ctx.strokeStyle = ds.borderColor;
    ds.data.forEach((p: any, i: number) => {
      const e = errs[i];
      if (!e) return;
      const px = xs.getPixelForValue(p.x);
      const y1 = ys.getPixelForValue(p.y + e);
      const y2 = ys.getPixelForValue(p.y - e);
      ctx.lineWidth = 3;
      ctx.beginPath();
      ctx.moveTo(px, y1);
      ctx.lineTo(px, y2);
      ctx.stroke();
      ctx.lineWidth = 2.5;
      ctx.beginPath();
      ctx.moveTo(px - 7, y1);
      ctx.lineTo(px + 7, y1);
      ctx.moveTo(px - 7, y2);
      ctx.lineTo(px + 7, y2);
      ctx.stroke();
    });
    ctx.restore();
  },
};

const framePlugin = {
  id: "frameTicks",
  afterDraw(chart: any) {
    const { ctx, chartArea } = chart;
    const { left, right, top, bottom } = chartArea;
    const xs = chart.scales.x;
    const ys = chart.scales.y;
    ctx.save();
    ctx.strokeStyle = "#000";
    const drawX = (v: number, len: number, w: number) => {
      const px = xs.getPixelForValue(v);
      ctx.lineWidth = w;
      ctx.beginPath();
      ctx.moveTo(px, bottom);
      ctx.lineTo(px, bottom - len);
      ctx.moveTo(px, top);
      ctx.lineTo(px, top + len);
      ctx.stroke();
    };
    const drawY = (v: number, len: number, w: number) => {
      const py = ys.getPixelForValue(v);
      ctx.lineWidth = w;
      ctx.beginPath();
      ctx.moveTo(left, py);
      ctx.lineTo(left + len, py);
      ctx.moveTo(right, py);
      ctx.lineTo(right - len, py);
      ctx.stroke();
    };
    xTickLabels.forEach((v) => drawX(v, 16, 2));
    xMinorTicks.forEach((v) => drawX(v, 8, 1.6));
    yTickLabels.forEach((v) => drawY(v, 16, 2));
    yMinorTicks.forEach((v) => drawY(v, 8, 1.6));
    ctx.lineWidth = 2;
    ctx.strokeRect(left, top, right - left, bottom - top);

    // r-process label
    ctx.fillStyle = "#000";
    ctx.font = `46px ${FONT}`;
    ctx.textBaseline = "alphabetic";
    ctx.textAlign = "left";
    ctx.fillText(rProcessLabel, xs.getPixelForValue(-1.448), ys.getPixelForValue(rProcessLaEu) - 20);

    // legend
    const rowY = [721, 771, 821];
    ctx.font = `33px ${FONT}`;
    ctx.textBaseline = "middle";
    trackNames.forEach((name, i) => {
      ctx.strokeStyle = trackColors[i];
      ctx.lineWidth = 4;
      ctx.beginPath();
      ctx.moveTo(247, rowY[i]);
      ctx.lineTo(319, rowY[i]);
      ctx.stroke();
      ctx.fillStyle = "#000";
      ctx.fillText(name, 342, rowY[i] + 1);
    });
    const mx = 556;
    starPath(ctx, mx, rowY[0] + 1, 16);
    ctx.fillStyle = "rgb(180, 18, 50)";
    ctx.fill();
    ctx.fillStyle = "rgb(128, 178, 215)";
    ctx.fillRect(mx - 8, rowY[1] - 7, 16, 15);
    ctx.fillStyle = "rgb(253, 182, 106)";
    ctx.beginPath();
    ctx.moveTo(mx, rowY[2] - 9);
    ctx.lineTo(mx + 9, rowY[2] + 7);
    ctx.lineTo(mx - 9, rowY[2] + 7);
    ctx.closePath();
    ctx.fill();
    ctx.fillStyle = "#000";
    sampleNames.forEach((name, i) => ctx.fillText(name, 617, rowY[i] + 1));
    ctx.restore();
  },
};

export default function App() {
  const canvasRef = useRef<HTMLCanvasElement | null>(null);

  useEffect(() => {
    let chart: Chart | null = null;
    let cancelled = false;
    const build = () => {
      if (cancelled || !canvasRef.current) return;
      const starImg = makeStarImage(10.5, haloColor);
      const lineDs = (label: string, xs: number[], ys: number[], errs: number[], color: string, width: number, order: number) => ({
        label,
        data: toPoints(xs, ys),
        showLine: true,
        borderColor: color,
        backgroundColor: color,
        borderWidth: width,
        pointRadius: 0,
        order,
        errorBars: errs,
      });
      const datasets: any[] = [
        lineDs(trackNames[2], track10Fe, track10LaEu, track10Err, trackColors[2], 4.5, 0),
        lineDs(trackNames[1], track75Fe, track75LaEu, track75Err, trackColors[1], 4.3, 1),
        lineDs(trackNames[0], track5Fe, track5LaEu, track5Err, trackColors[0], 4.3, 2),
        {
          label: "solar-y",
          data: [{ x: xRange[0], y: solarLaEu }, { x: xRange[1], y: solarLaEu }],
          showLine: true, borderColor: "#000", borderWidth: 2, borderDash: [2.2, 6], pointRadius: 0, order: 3,
        },
        {
          label: "solar-x",
          data: [{ x: solarFe, y: yRange[0] }, { x: solarFe, y: yRange[1] }],
          showLine: true, borderColor: "#000", borderWidth: 2, borderDash: [2.2, 6], pointRadius: 0, order: 3,
        },
        {
          label: rProcessLabel,
          data: [{ x: xRange[0], y: rProcessLaEu }, { x: xRange[1], y: rProcessLaEu }],
          showLine: true, borderColor: "#000", borderWidth: 3, borderDash: [13, 12], pointRadius: 0, order: 3,
        },
        {
          label: sampleNames[0],
          data: pairsToPoints(haloStars),
          pointStyle: starImg, pointRadius: 10, borderWidth: 0, order: 4,
        },
        {
          label: sampleNames[2],
          data: pairsToPoints(lowAlphaDisk),
          pointStyle: "triangle", pointRadius: 7.2, borderWidth: 0,
          backgroundColor: lowAlphaColor, borderColor: "rgba(0,0,0,0)", order: 5,
        },
        {
          label: sampleNames[1],
          data: pairsToPoints(highAlphaDisk),
          pointStyle: "rect", pointRadius: 7.4, borderWidth: 0,
          backgroundColor: highAlphaColor, borderColor: "rgba(0,0,0,0)", order: 6,
        },
      ];
      chart = new Chart(canvasRef.current, {
        type: "scatter",
        data: { datasets },
        options: {
          responsive: false,
          animation: false,
          events: [],
          layout: { padding: { left: 0, top: 72, right: 53, bottom: 0 } },
          plugins: { legend: { display: false }, tooltip: { enabled: false } },
          scales: {
            x: {
              type: "linear",
              min: xRange[0],
              max: xRange[1],
              afterBuildTicks: (s: any) => {
                s.ticks = xTickLabels.map((v) => ({ value: v }));
              },
              afterFit: (s: any) => {
                s.height = 180;
              },
              grid: { display: false, drawTicks: false },
              border: { display: false },
              ticks: {
                color: "#000",
                font: { family: FONT, size: 42 },
                padding: 12,
                maxRotation: 0,
                autoSkip: false,
                callback: (v: any) => Number(v).toFixed(1),
              },
              title: {
                display: true,
                text: xTitle,
                color: "#000",
                font: { family: FONT, size: 49 },
                padding: { top: 0, bottom: 47 },
              },
            },
            y: {
              type: "linear",
              min: yRange[0],
              max: yRange[1],
              afterBuildTicks: (s: any) => {
                s.ticks = yTickLabels.map((v) => ({ value: v }));
              },
              afterFit: (s: any) => {
                s.width = 219;
              },
              grid: { display: false, drawTicks: false },
              border: { display: false },
              ticks: {
                color: "#000",
                font: { family: FONT, size: 42 },
                padding: 17,
                autoSkip: false,
                callback: (v: any) => Number(v).toFixed(1),
              },
              title: {
                display: true,
                text: yTitle,
                color: "#000",
                font: { family: FONT, size: 48 },
                padding: { top: 43, bottom: 0 },
              },
            },
          },
        } as any,
        plugins: [errorBarPlugin, framePlugin],
      });
    };
    const fontsReady = (document as any).fonts && (document as any).fonts.load
      ? Promise.all([
          (document as any).fonts.load(`42px Lato`),
          (document as any).fonts.load(`33px Lato`),
        ]).catch(() => null)
      : Promise.resolve(null);
    fontsReady.then(build);
    return () => {
      cancelled = true;
      if (chart) chart.destroy();
    };
  }, []);

  return (
    <div style={{ position: "fixed", left: 0, top: 0, width: 1800, height: 1050, background: "#fff" }}>
      <canvas ref={canvasRef} width={1800} height={1050} style={{ display: "block", width: 1800, height: 1050 }} />
    </div>
  );
}
